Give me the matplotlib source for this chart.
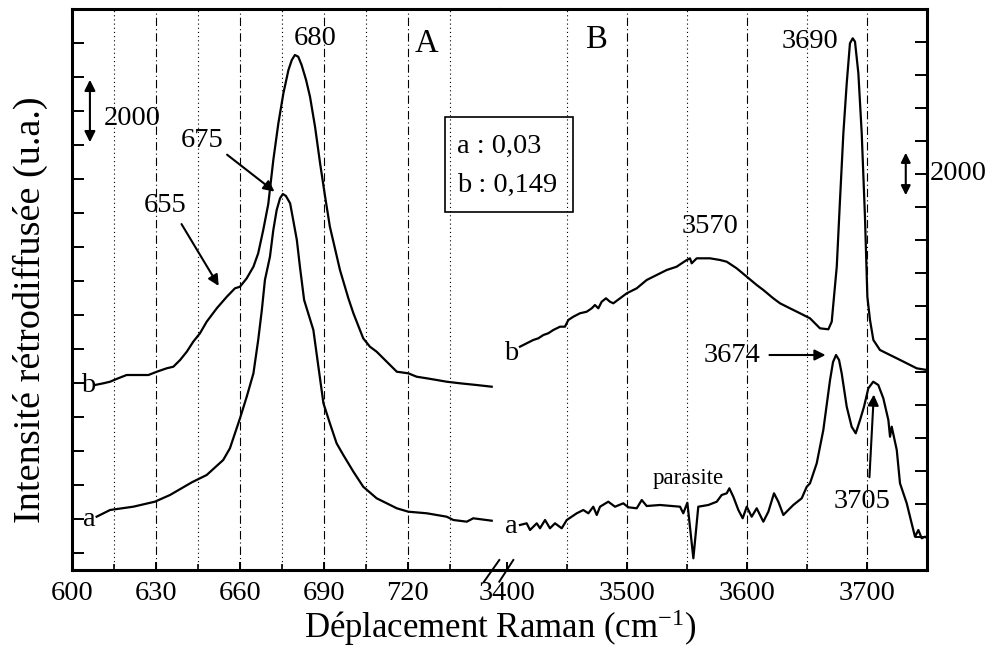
import matplotlib.pyplot as plt
from matplotlib.lines import Line2D
from matplotlib.patches import Rectangle
import numpy as np

plt.rcParams['font.family'] = ['Liberation Serif', 'DejaVu Serif']
plt.rcParams['mathtext.default'] = 'regular'
plt.rcParams['lines.scale_dashes'] = False

# --- spectre 600-750 cm-1 (panneau A)
xa_left = [608.8, 613.6, 621.9, 629.6, 635.0, 642.8, 648.1, 654.0, 656.4, 660.0, 662.4, 664.8,
           666.5, 667.8, 668.9, 670.7, 671.9, 673.1, 674.3, 675.3, 676.4, 677.9, 679.0, 680.3,
           681.4, 682.9, 686.2, 688.0, 689.8, 692.1, 694.5, 696.9, 700.5, 704.0, 708.8, 716.0,
           720.1, 726.7, 733.8, 736.2, 741.0, 743.3, 749.9]
ya_left = [1068, 1265, 1362, 1509, 1706, 2079, 2294, 2735, 3079, 3962, 4597, 5285,
           6265, 7147, 8029, 8715, 9500, 10088, 10432, 10559, 10500, 10285, 9794, 9206,
           8421, 7441, 6559, 5479, 4403, 3815, 3226, 2882, 2391, 1950, 1609, 1315,
           1215, 1168, 1068, 971, 921, 1021, 950]

xb_left = [608.2, 611.2, 613.6, 616.5, 619.5, 623.1, 627.3, 630.3, 633.8, 636.2, 638.6, 641.0,
           643.3, 645.7, 648.1, 651.7, 655.3, 658.2, 660.0, 662.4, 664.8, 666.5, 668.3, 670.1,
           671.9, 673.7, 675.5, 677.3, 678.5, 679.6, 680.8, 682.0, 683.6, 685.0, 686.8, 688.6,
           690.4, 692.1, 693.9, 695.7, 698.7, 700.5, 704.0, 706.4, 708.8, 712.4, 716.0, 720.1,
           723.1, 726.7, 730.3, 733.8, 738.6, 744.5, 749.9]
yb_left = [4941, 4991, 5038, 5138, 5235, 5235, 5235, 5332, 5432, 5479, 5676, 5921,
           6215, 6462, 6803, 7197, 7538, 7785, 7832, 8079, 8421, 8815, 9500, 10265,
           11559, 12638, 13521, 14206, 14500, 14647, 14597, 14353, 13912, 13421, 12538, 11462,
           10479, 9597, 8962, 8324, 7491, 7050, 6315, 6068, 5921, 5626, 5332, 5285,
           5185, 5138, 5088, 5038, 4991, 4941, 4891]

# --- spectre 3400-3750 cm-1 (panneau B)
xa_right = [3410.8, 3416.4, 3419.2, 3424.8, 3427.5, 3431.7, 3435.8, 3440.0, 3445.6, 3449.8,
            3458.1, 3463.6, 3467.8, 3471.9, 3474.8, 3477.5, 3484.4, 3490.0, 3496.9, 3501.1,
            3508.1, 3512.3, 3516.4, 3527.5, 3544.2, 3546.9, 3550.3, 3555.3, 3559.4, 3567.8,
            3574.8, 3578.9, 3583.1, 3585.3, 3588.6, 3592.8, 3596.4, 3599.8, 3603.9, 3608.1,
            3613.6, 3617.8, 3622.5, 3626.1, 3630.3, 3634.4, 3638.6, 3645.6, 3649.8, 3652.5,
            3658.1, 3663.6, 3669.2, 3671.7, 3674.2, 3676.7, 3678.9, 3683.1, 3687.2, 3690.6,
            3694.2, 3697.5, 3701.1, 3705.2, 3709.4, 3713.6, 3717.8, 3719.2, 3720.6, 3724.8,
            3727.5, 3733.1, 3737.2, 3740.0, 3742.8, 3745.6, 3748.3, 3750.0]
ya_right = [364, 415, 212, 415, 264, 515, 264, 415, 264, 515,
            718, 818, 718, 918, 667, 918, 1070, 918, 1021, 900,
            870, 1121, 939, 970, 918, 718, 1039, -645, 918, 970,
            1070, 1273, 1324, 1476, 1221, 818, 567, 918, 615, 870,
            464, 767, 1324, 1070, 667, 818, 970, 1173, 1524, 1627,
            2233, 3242, 4758, 5303, 5515, 5364, 4961, 3948, 3342, 3142,
            3545, 3948, 4506, 4706, 4606, 4203, 3545, 3039, 3342, 2636,
            1627, 1021, 415, 9, 212, -39, 9, -30]

xb_right = [3410.8, 3421.9, 3426.1, 3430.3, 3434.4, 3438.6, 3444.2, 3448.3, 3451.1, 3455.3,
            3460.8, 3466.4, 3470.6, 3473.3, 3476.1, 3478.9, 3482.5, 3485.8, 3488.6, 3494.2,
            3499.8, 3508.1, 3516.4, 3524.7, 3533.1, 3541.4, 3545.6, 3549.8, 3552.5, 3553.9,
            3558.1, 3569.2, 3577.5, 3583.1, 3591.4, 3599.8, 3608.1, 3613.6, 3621.9, 3627.5,
            3635.8, 3644.2, 3652.5, 3660.8, 3667.8, 3670.6, 3672.5, 3674.8, 3677.5, 3680.3,
            3683.1, 3685.8, 3688.1, 3690.0, 3692.8, 3695.6, 3698.3, 3700.3, 3702.5, 3705.3,
            3710.8, 3719.2, 3724.8, 3733.1, 3741.4, 3749.8]
yb_right = [5767, 5970, 6021, 6121, 6173, 6273, 6373, 6373, 6576, 6676,
            6779, 6827, 6930, 7030, 6930, 7130, 7233, 7130, 7082, 7233,
            7385, 7536, 7788, 7939, 8091, 8191, 8294, 8394, 8445, 8294,
            8445, 8445, 8394, 8342, 8142, 7888, 7636, 7485, 7233, 7082,
            6930, 6779, 6627, 6324, 6294, 6524, 7282, 8191, 10212, 12233,
            13748, 14961, 15112, 15009, 14051, 12233, 9706, 7282, 6576, 5970,
            5667, 5515, 5415, 5264, 5112, 5061]

left_major = [600, 630, 660, 690, 720]
left_minor = [615, 645, 675, 705, 735]
right_major = [3400, 3500, 3600, 3700]
right_minor = [3450, 3550, 3650]

W, H = 994, 661
fig = plt.figure(figsize=(W / 100, H / 100), dpi=100)
x0, xm, x1 = 72 / W, 500 / W, 927 / W
yb, yt = 1 - 570 / H, 1 - 9 / H
ax1 = fig.add_axes([x0, yb, xm - x0, yt - yb])
ax2 = fig.add_axes([xm, yb, x1 - xm, yt - yb])

ax1.set_xlim(600, 600 + (500 - 72) / 2.8)
ax1.set_ylim(-500, 16000)
ax2.set_xlim(3400 + (500 - 507) / 1.2, 3750)
ax2.set_ylim(-1000, 16000)

dot = (0, (0.8, 2.2))
dashdot = (0, (6, 2.2, 0.8, 2.2))
for ax, maj, mn in [(ax1, left_major, left_minor), (ax2, right_major, right_minor)]:
    for v in maj:
        if v not in (600, 3400):
            ax.axvline(v, color='k', lw=0.8, ls=dashdot, zorder=0)
    for v in mn:
        ax.axvline(v, color='k', lw=0.8, ls=dot, zorder=0)
    ax.set_xticks(maj)
    ax.set_xticks(mn, minor=True)
    ax.set_yticks(np.arange(0, 16000, 1000))
    ax.tick_params(axis='both', which='major', direction='in', width=1.4, labelsize=20.5, pad=8)
    ax.tick_params(axis='x', which='major', length=6)
    ax.tick_params(axis='x', which='minor', direction='in', length=4, width=1.2)
    ax.tick_params(axis='y', which='both', length=8.5)
    for s in ax.spines.values():
        s.set_linewidth(2.2)

ax1.spines['right'].set_visible(False)
ax2.spines['left'].set_visible(False)
ax1.tick_params(axis='y', left=True, right=False, labelleft=False)
ax2.tick_params(axis='y', left=False, right=True, labelleft=False, labelright=False)

ax1.plot(xa_left, ya_left, color='k', lw=1.6)
ax1.plot(xb_left, yb_left, color='k', lw=1.6)
ax2.plot(xa_right, ya_right, color='k', lw=1.6)
ax2.plot(xb_right, yb_right, color='k', lw=1.6)

fs = 20.5
arw = dict(arrowstyle='-|>', color='k', lw=1.5, mutation_scale=16)
ax1.text(686.8, 15147, '680', fontsize=fs, ha='center', va='center')
ax1.text(726.7, 14991, 'A', fontsize=fs + 3, ha='center', va='center')
ax1.text(646.3, 12147, '675', fontsize=fs, ha='center', va='center')
ax1.annotate('', xy=(673.1, 10579), xytext=(654.6, 11765), arrowprops=arw)
ax1.text(633.2, 10235, '655', fontsize=fs, ha='center', va='center')
ax1.annotate('', xy=(652.9, 7785), xytext=(638.6, 9744), arrowprops=arw)
ax1.annotate('', xy=(606.4, 12000), xytext=(606.4, 14000),
             arrowprops=dict(arrowstyle='<|-|>', color='k', lw=1.5, mutation_scale=16))
ax1.text(621.6, 12794, '2000', fontsize=fs, ha='center', va='center')
ax1.text(605.6, 4912, 'b', fontsize=fs, ha='center', va='center')
ax1.text(606.2, 991, 'a', fontsize=fs, ha='center', va='center')

ax2.text(3475, 15061, 'B', fontsize=fs + 3, ha='center', va='center')
ax2.text(3652.5, 15009, '3690', fontsize=fs, ha='center', va='center')
ax2.text(3569.2, 9403, '3570', fontsize=fs, ha='center', va='center')
ax2.annotate('', xy=(3732.3, 10273), xytext=(3732.3, 11727),
             arrowprops=dict(arrowstyle='<|-|>', color='k', lw=1.5, mutation_scale=14))
ax2.text(3752.5, 11030, '2000', fontsize=fs, ha='left', va='center', clip_on=False)
ax2.text(3587.3, 5515, '3674', fontsize=fs, ha='center', va='center')
ax2.annotate('', xy=(3667.8, 5515), xytext=(3616.4, 5515), arrowprops=arw)
ax2.text(3695.6, 1070, '3705', fontsize=fs, ha='center', va='center')
ax2.annotate('', xy=(3705.8, 4403), xytext=(3701.9, 1727), arrowprops=arw)
ax2.text(3551.1, 1779, 'parasite', fontsize=16.5, ha='center', va='center')
ax2.text(3403.1, 5567, 'b', fontsize=fs, ha='center', va='center')
ax2.text(3403.9, 312, 'a', fontsize=fs, ha='center', va='center')

# legend box across both panels
fig.patches.append(Rectangle((445 / W, 1 - 211.7 / H), 128.3 / W, 95 / H,
                             transform=fig.transFigure, fill=False, lw=1.2, color='k'))
fig.text(457 / W, 1 - 146.7 / H, 'a : 0,03', fontsize=fs, ha='left', va='center')
fig.text(457 / W, 1 - 185 / H, 'b : 0,149', fontsize=fs, ha='left', va='center')

# axis break marks
for xa_, xb_ in [(484, 499.3), (499.3, 513.3)]:
    fig.lines.append(Line2D([xa_ / W, xb_ / W], [1 - 581.7 / H, 1 - 560 / H],
                            transform=fig.transFigure, color='k', lw=1.4))

fig.text(500 / W, 1 - 628 / H, 'Déplacement Raman (cm$^{-1}$)', fontsize=25,
         ha='center', va='center')
fig.text(30 / W, 1 - 310 / H, 'Intensité rétrodiffusée (u.a.)', fontsize=27.5,
         ha='center', va='center', rotation=90)

fig.savefig('out.png', dpi=100)
